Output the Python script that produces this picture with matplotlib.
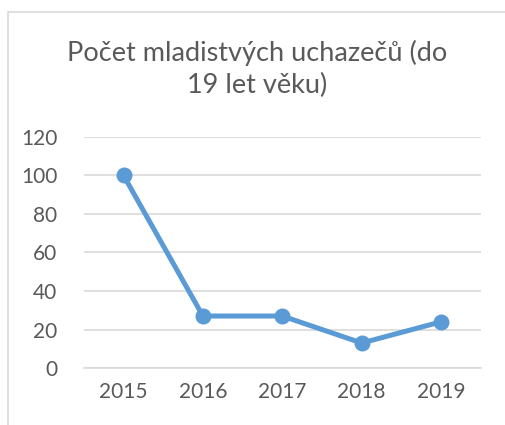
import matplotlib.pyplot as plt
from matplotlib.patches import Rectangle

years = ['2015', '2016', '2017', '2018', '2019']
counts = [100, 27, 27, 13, 24]
y_ticks = [0, 20, 40, 60, 80, 100, 120]

plt.rcParams['font.family'] = ['Lato', 'DejaVu Sans']

fig = plt.figure(figsize=(5.05, 4.25), dpi=100)
ax = fig.add_axes([0.166, 0.134, 0.786, 0.544])

x = list(range(len(years)))
ax.plot(x, counts, color='#5B9BD5', linewidth=3.6, marker='o', markersize=10.5, zorder=3)

ax.set_xlim(-0.5, len(years) - 0.5)
ax.set_ylim(0, 120)
ax.set_yticks(y_ticks)
ax.set_xticks(x)
ax.set_xticklabels(years)
ax.yaxis.grid(True, color='#D9D9D9', linewidth=1.2)
ax.set_axisbelow(True)
for s in ['top', 'right', 'left']:
    ax.spines[s].set_visible(False)
ax.spines['bottom'].set_color('#D9D9D9')
ax.spines['bottom'].set_linewidth(1.2)
ax.tick_params(length=0, labelsize=15, colors='#595959', pad=10)
ax.tick_params(axis='y', pad=19)

fig.text(0.51, 0.837, 'Počet mladistvých uchazečů (do\n19 let věku)', ha='center', va='center',
         fontsize=19.5, color='#595959', linespacing=1.35)

# chart border
fig.patches.append(Rectangle((8 / 505, -0.1), 1.2, 1 - 12 / 425 + 0.1, transform=fig.transFigure,
                             fill=False, edgecolor='#D9D9D9', linewidth=1.2))

fig.savefig('out.png', dpi=100)
